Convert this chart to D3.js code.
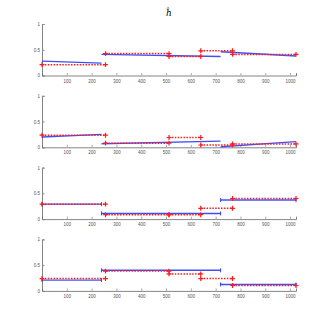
<!DOCTYPE html>
<html>
<head>
<meta charset="utf-8">
<script src="https://cdn.jsdelivr.net/npm/d3@7"></script>
<style>
  body { margin: 0; background: #fff; }
  .tick text { fill: #555; }
</style>
</head>
<body>
<svg id="chart" width="327" height="327"></svg>
<script>
// segment boundaries (samples)
const redBreaks = [0, 256, 512, 640, 768, 1024]
const blueBreaks = [0, 240, 720, 1024]

// blue: [start, end] value of each segment, red: one value per segment
const blue1 = [[0.28, 0.24], [0.41, 0.37], [0.46, 0.38]]
const red1 = [0.21, 0.425, 0.37, 0.48, 0.41]
const blue2 = [[0.20, 0.25], [0.07, 0.12], [0.01, 0.11]]
const red2 = [0.235, 0.08, 0.19, 0.045, 0.065]
const blue3 = [[0.29, 0.29], [0.11, 0.11], [0.37, 0.37]]
const red3 = [0.29, 0.085, 0.085, 0.21, 0.40]
const blue4 = [[0.21, 0.21], [0.40, 0.40], [0.125, 0.125]]
const red4 = [0.24, 0.385, 0.33, 0.24, 0.105]
const capped = [false, false, true, true]

const xTicks = [100, 200, 300, 400, 500, 600, 700, 800, 900, 1000]
const yTicks = [0, 0.5, 1]
const title = "ĥ"

const panels = [
    { blue: blue1, red: red1 },
    { blue: blue2, red: red2 },
    { blue: blue3, red: red3 },
    { blue: blue4, red: red4 }
]

const svg = d3.select("#chart")

const xScale = d3.scaleLinear()
    .domain([0, 1024])
    .range([42, 296])

svg.append("text")
    .attr("x", 169)
    .attr("y", 16)
    .attr("text-anchor", "middle")
    .attr("font-family", "DejaVu Serif")
    .attr("font-style", "italic")
    .attr("font-size", 9)
    .attr("fill", "#000")
    .text(title)

panels.forEach((p, i) => {
    const top = 24 + i * 71.8
    const yScale = d3.scaleLinear()
        .domain([0, 1])
        .range([top + 51.5, top])

    const g = svg.append("g")

    const xAxis = d3.axisBottom(xScale)
        .tickValues(xTicks)
        .tickSize(-2.5)
        .tickPadding(4)
        .tickFormat(d3.format("d"))
    const gx = g.append("g")
        .attr("transform", `translate(0,${yScale(0)})`)
        .call(xAxis)
    gx.select(".domain").attr("stroke", "#666").attr("stroke-width", 0.8)
    gx.selectAll(".tick line").attr("stroke", "#aaa")
    gx.selectAll("text").attr("font-size", 4.5).attr("font-family", "Liberation Sans")

    const yAxis = d3.axisLeft(yScale)
        .tickValues(yTicks)
        .tickSize(-2.5)
        .tickPadding(2)
        .tickFormat(d3.format("~g"))
    const gy = g.append("g")
        .attr("transform", `translate(${xScale(0)},0)`)
        .call(yAxis)
    gy.select(".domain").attr("stroke", "#666").attr("stroke-width", 0.8)
    gy.selectAll(".tick line").attr("stroke", "#888")
    gy.selectAll("text").attr("font-size", 4.5).attr("font-family", "Liberation Sans")

    // blue segments
    const blueSegs = p.blue.map((v, k) => ({ x0: blueBreaks[k], x1: blueBreaks[k + 1], y0: v[0], y1: v[1] }))
    g.selectAll(".blue")
        .data(blueSegs)
        .join("line")
        .attr("class", "blue")
        .attr("x1", d => xScale(d.x0))
        .attr("x2", d => xScale(d.x1))
        .attr("y1", d => yScale(d.y0))
        .attr("y2", d => yScale(d.y1))
        .attr("stroke", "#1f2fff")
        .attr("stroke-width", 1.4)
        .attr("stroke-opacity", 0.85)

    if (capped[i]) {
        const caps = blueSegs.flatMap(d => [{ x: d.x0, y: d.y0 }, { x: d.x1, y: d.y1 }])
        g.selectAll(".cap")
            .data(caps)
            .join("line")
            .attr("class", "cap")
            .attr("x1", d => xScale(d.x))
            .attr("x2", d => xScale(d.x))
            .attr("y1", d => yScale(d.y) - 2)
            .attr("y2", d => yScale(d.y) + 2)
            .attr("stroke", "#1f2fff")
            .attr("stroke-width", 0.9)
    }

    // red dotted segments
    const redSegs = p.red.map((v, k) => ({ x0: redBreaks[k], x1: redBreaks[k + 1], y: v }))
    g.selectAll(".red")
        .data(redSegs)
        .join("line")
        .attr("class", "red")
        .attr("x1", d => xScale(d.x0))
        .attr("x2", d => xScale(d.x1))
        .attr("y1", d => yScale(d.y))
        .attr("y2", d => yScale(d.y))
        .attr("stroke", "#ff1a1a")
        .attr("stroke-width", 1.5)
        .attr("stroke-dasharray", "1.5,1.4")

    const marks = redSegs.flatMap(d => [{ x: d.x0, y: d.y }, { x: d.x1, y: d.y }])
    g.selectAll(".mark")
        .data(marks)
        .join("path")
        .attr("class", "mark")
        .attr("d", d3.symbol(d3.symbolCross2 || d3.symbolPlus, 9))
        .attr("transform", d => `translate(${xScale(d.x)},${yScale(d.y)})`)
        .attr("fill", "none")
        .attr("stroke", "#ff1a1a")
        .attr("stroke-width", 1.2)
})
</script>
</body>
</html>
